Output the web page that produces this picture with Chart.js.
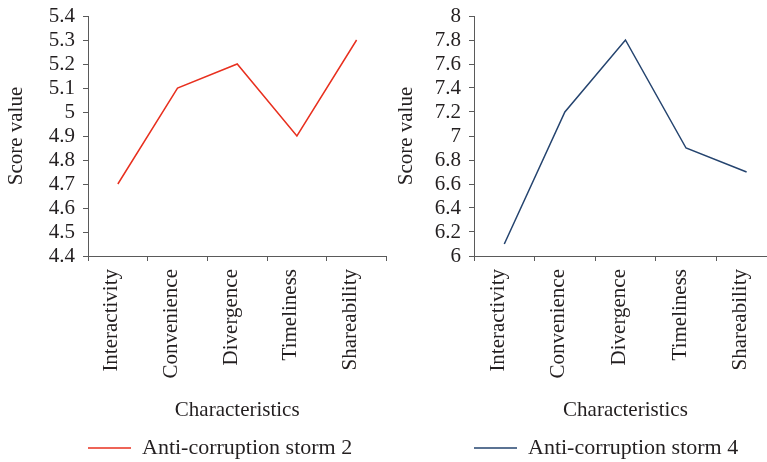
<!DOCTYPE html>
<html>
<head>
<meta charset="utf-8">
<script src="https://cdn.jsdelivr.net/npm/chart.js@4/dist/chart.umd.min.js"></script>
<style>
  html, body { margin: 0; padding: 0; background: #fff; }
  body { width: 767px; height: 462px; overflow: hidden; position: relative; }
  .panel { position: absolute; top: 0; height: 462px; }
  #left-panel { left: 0; width: 390px; }
  #right-panel { left: 390px; width: 390px; }
</style>
</head>
<body>
<div class="panel" id="left-panel"><canvas id="storm-2-chart"></canvas></div>
<div class="panel" id="right-panel"><canvas id="storm-4-chart"></canvas></div>
<script>
const categories = ['Interactivity', 'Convenience', 'Divergence', 'Timeliness', 'Shareability'];
const storm2Scores = [4.7, 5.1, 5.2, 4.9, 5.3];
const storm4Scores = [6.1, 7.2, 7.8, 6.9, 6.7];
const storm2Axis = [4.4, 5.4, 0.1];   // min, max, step
const storm4Axis = [6, 8, 0.2];

const FONT = "'Liberation Serif', 'DejaVu Serif', serif";
const TEXT_COLOR = '#231f20';
const AXIS_COLOR = '#5a5a5a';

Chart.defaults.font.family = FONT;
Chart.defaults.color = TEXT_COLOR;

makeScoreChart('storm-2-chart', 'Anti-corruption storm 2', storm2Scores, storm2Axis, '#e8301f', 88);
makeScoreChart('storm-4-chart', 'Anti-corruption storm 4', storm4Scores, storm4Axis, '#25446f', 84);


function makeScoreChart(canvasId, label, scores, axis, color, yWidth) {
  const ctx = document.getElementById(canvasId);
  const chartConfig = {
    type: 'line',
    data: {
      labels: categories,
      datasets: [{
        label: label,
        data: scores,
        borderColor: color,
        backgroundColor: color,
        borderWidth: 1.5,
        pointRadius: 0,
        tension: 0
      }]
    },
    options: {
      responsive: true,
      maintainAspectRatio: false,
      animation: false,
      layout: { padding: { top: 16, left: 0, right: 2, bottom: -7 } },
      plugins: {
        tooltip: { enabled: false },
        legend: {
          position: 'bottom',
          align: 'start',
          fullSize: false,
          labels: {
            usePointStyle: true,
            pointStyle: 'line',
            pointStyleWidth: 43,
            boxHeight: 20,
            padding: 0,
            font: { size: 22 }
          }
        }
      },
      scales: {
        x: {
          offset: true,
          grid: { offset: true, drawOnChartArea: false, tickLength: 5, color: AXIS_COLOR },
          border: { color: AXIS_COLOR },
          ticks: {
            autoSkip: false,
            minRotation: 90,
            maxRotation: 90,
            padding: 8,
            labelOffset: -6,
            font: { size: 21 }
          },
          title: {
            display: true,
            text: 'Characteristics',
            font: { size: 21 },
            padding: { top: 0, bottom: 14 }
          },
          afterFit: (scale) => { scale.height = 181; }
        },
        y: {
          min: axis[0],
          max: axis[1],
          grid: { drawOnChartArea: false, tickLength: 5, color: AXIS_COLOR },
          border: { color: AXIS_COLOR },
          ticks: {
            autoSkip: false,
            stepSize: axis[2],
            padding: 8,
            font: { size: 21 },
            callback: (v) => String(Math.round(v * 10) / 10)
          },
          title: {
            display: true,
            text: 'Score value',
            font: { size: 21 },
            padding: { top: 4, bottom: 0 }
          },
          afterFit: (scale) => {
            scale.width = yWidth;
            scale.paddingTop = 4;
          }
        }
      }
    }
  };
  return new Chart(ctx, chartConfig);
}
</script>
</body>
</html>
